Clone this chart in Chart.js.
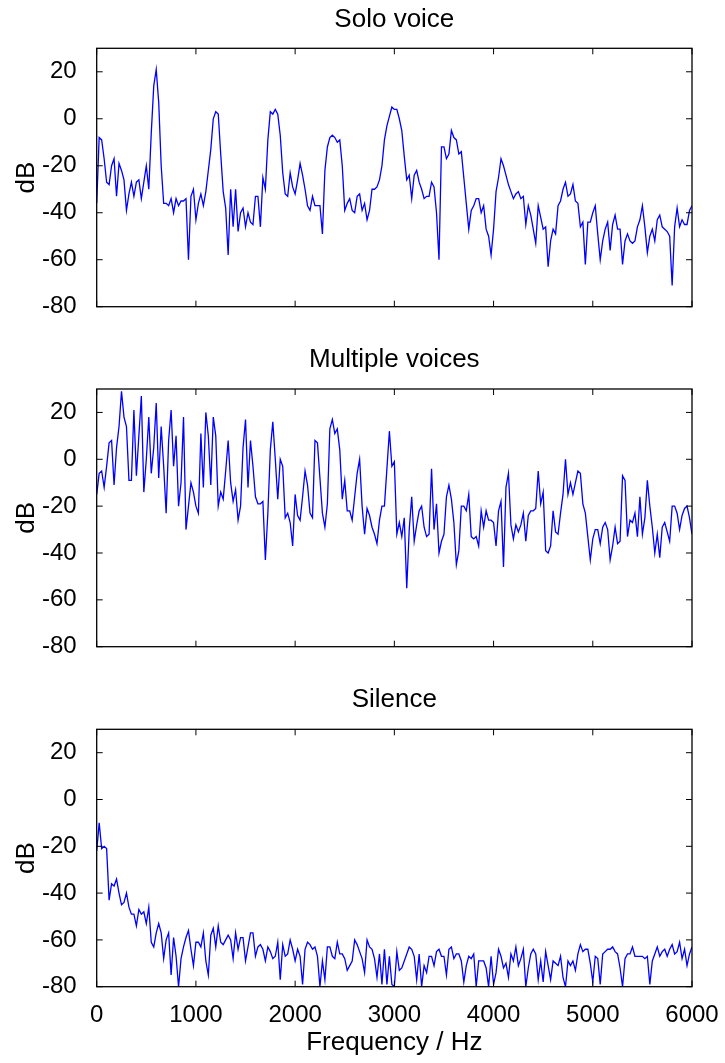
<!DOCTYPE html>
<html>
<head>
<meta charset="utf-8">
<title>Spectra</title>
<script src="https://cdn.jsdelivr.net/npm/chart.js@4.4.0/dist/chart.umd.min.js"></script>
<style>
  html, body { margin: 0; padding: 0; background: #fff; }
  #page { position: relative; width: 725px; height: 1063px; }
  #page canvas { position: absolute; left: 0; }
</style>
</head>
<body>
<div id="page">
  <canvas id="solo" width="725" height="340" style="top:0"></canvas>
  <canvas id="multi" width="725" height="340" style="top:340px"></canvas>
  <canvas id="silence" width="725" height="383" style="top:680px"></canvas>
</div>
<script>
// spectrum bins every 25 Hz, 0..6000 Hz
const FREQ_STEP = 25;
const xTicks = [0, 1000, 2000, 3000, 4000, 5000, 6000];
const yTicks = [-80, -60, -40, -20, 0, 20];
const titles = ['Solo voice', 'Multiple voices', 'Silence'];

// dB values, 10 bins (250 Hz) per row
const soloVoice = [
  -36, -8, -9, -17, -27, -28, -20, -17, -33, -19,
  -22, -26, -39, -32, -27, -33, -27, -26, -34, -27,
  -20, -30, -6, 14, 21, 7, -20, -36, -36, -37,
  -34, -40, -34, -37, -35, -35, -34, -60, -33, -30,
  -43, -36, -32, -37, -31, -22, -13, 0, 3, 2,
  -15, -31, -38, -58, -30, -46, -30, -48, -40, -38,
  -46, -40, -44, -45, -33, -33, -46, -25, -30, -9,
  3, 2, 4, 2, -7, -23, -32, -33, -23, -29,
  -32, -26, -19, -24, -30, -37, -39, -33, -37, -37,
  -37, -49, -22, -12, -8, -7, -8, -10, -9, -20,
  -39, -36, -34, -39, -40, -33, -32, -39, -36, -43,
  -39, -30, -30, -29, -26, -20, -9, -3, 1, 5,
  4, 4, 0, -5, -16, -26, -24, -34, -24, -22,
  -27, -30, -34, -33, -33, -27, -29, -40, -60, -12,
  -12, -17, -15, -5, -8, -9, -15, -14, -25, -36,
  -47, -39, -37, -34, -34, -40, -37, -47, -50, -58,
  -47, -31, -25, -17, -20, -24, -28, -31, -34, -32,
  -31, -34, -33, -45, -37, -41, -47, -53, -37, -42,
  -47, -46, -63, -52, -47, -49, -37, -35, -30, -27,
  -33, -32, -28, -35, -36, -46, -44, -62, -44, -44,
  -40, -37, -49, -60, -52, -47, -44, -56, -45, -41,
  -47, -47, -62, -52, -49, -52, -53, -52, -46, -43,
  -37, -46, -57, -50, -47, -52, -43, -41, -46, -47,
  -48, -50, -71, -46, -38, -46, -43, -45, -45, -39,
  -37
];

const multipleVoices = [
  -15, -6, -5, -12, -3, 7, 8, -11, 5, 14,
  29, 18, 14, -9, -9, 21, -7, 10, 27, -14,
  0, 18, -6, 5, 24, -8, 14, -3, -23, 8,
  21, -3, 10, -20, -10, 18, -30, -20, -10, -14,
  -20, -23, 11, -12, 20, 10, -11, 18, 10, -20,
  -14, -17, -5, 8, -10, -18, -13, -26, -20, 5,
  17, -12, 8, -3, -16, -19, -19, -18, -43, -23,
  4, 16, 0, -17, 0, -3, -25, -23, -27, -37,
  -15, -24, -26, -16, -5, -11, -23, -25, 8, 7,
  -8, -23, -29, -19, 13, 17, 11, 13, 4, -17,
  -9, -22, -22, -26, -16, -6, 0, -20, -32, -21,
  -24, -29, -32, -36, -26, -20, -20, -4, 12, -3,
  -1, -32, -27, -33, -25, -55, -30, -16, -35, -28,
  -22, -20, -29, -33, -32, -4, -30, -19, -40, -35,
  -32, -16, -11, -17, -27, -45, -39, -20, -20, -22,
  -15, -33, -34, -33, -37, -22, -29, -22, -26, -26,
  -27, -37, -22, -18, -46, -12, -6, -28, -34, -28,
  -31, -28, -23, -35, -24, -22, -22, -21, -5, -19,
  -14, -39, -40, -37, -22, -31, -32, -23, -15, 0,
  -15, -10, -15, -10, -5, -6, -19, -23, -33, -43,
  -34, -30, -30, -36, -29, -27, -30, -43, -37, -29,
  -36, -35, -7, -9, -33, -26, -27, -23, -33, -16,
  -32, -25, -9, -20, -29, -40, -32, -42, -29, -27,
  -31, -35, -20, -20, -23, -30, -24, -21, -20, -25,
  -32
];

const silence = [
  -22, -10, -21, -20, -21, -43, -36, -37, -34, -40,
  -45, -44, -40, -46, -49, -49, -54, -47, -49, -48,
  -53, -46, -61, -63, -57, -53, -57, -68, -60, -57,
  -75, -59, -67, -80, -68, -63, -59, -56, -64, -71,
  -61, -61, -63, -57, -69, -75, -58, -55, -63, -54,
  -61, -62, -60, -58, -60, -68, -57, -64, -59, -59,
  -69, -63, -57, -57, -67, -63, -62, -64, -69, -63,
  -65, -68, -67, -61, -77, -62, -67, -66, -60, -64,
  -69, -64, -67, -79, -64, -61, -62, -64, -63, -67,
  -80, -69, -77, -63, -63, -67, -68, -61, -66, -66,
  -68, -73, -71, -69, -60, -62, -65, -68, -74, -60,
  -63, -64, -68, -76, -66, -79, -64, -79, -67, -79,
  -80, -65, -73, -72, -69, -66, -63, -64, -67, -77,
  -66, -80, -71, -74, -67, -67, -71, -65, -64, -67,
  -67, -75, -64, -63, -68, -66, -66, -69, -78, -71,
  -67, -68, -66, -80, -69, -69, -69, -72, -80, -67,
  -79, -74, -64, -67, -72, -70, -76, -66, -69, -63,
  -71, -68, -64, -80, -72, -66, -64, -66, -77, -69,
  -78, -65, -71, -77, -69, -70, -71, -67, -76, -80,
  -69, -71, -69, -73, -66, -62, -65, -64, -64, -70,
  -78, -67, -68, -79, -66, -65, -64, -64, -63, -65,
  -66, -72, -80, -68, -66, -66, -63, -67, -67, -67,
  -67, -68, -67, -79, -69, -66, -63, -67, -65, -64,
  -67, -64, -62, -66, -65, -61, -68, -64, -71, -66,
  -63
];

const FONT = 'Liberation Sans, Arial, Helvetica, sans-serif';

// MATLAB style axes: box round the plot, ticks pointing inwards on all sides
const boxAndTicks = {
    id: 'boxAndTicks',
    afterDatasetsDraw(chart) {
        const { ctx, chartArea: a, scales: { x, y } } = chart;
        const len = 6;
        ctx.save();
        ctx.strokeStyle = '#000';
        ctx.lineWidth = 1;
        ctx.beginPath();
        xTicks.forEach(v => {
            const px = x.getPixelForValue(v);
            ctx.moveTo(px, a.bottom); ctx.lineTo(px, a.bottom - len);
            ctx.moveTo(px, a.top); ctx.lineTo(px, a.top + len);
        });
        yTicks.forEach(v => {
            const py = y.getPixelForValue(v);
            ctx.moveTo(a.left, py); ctx.lineTo(a.left + len, py);
            ctx.moveTo(a.right, py); ctx.lineTo(a.right - len, py);
        });
        ctx.stroke();
        ctx.lineWidth = 1.3;
        ctx.strokeRect(a.left, a.top, a.width, a.height);
        ctx.restore();
    }
};

function makePanel(canvasId, title, values, showX, titleGap) {
    const freqs = values.map((_, i) => i * FREQ_STEP);
    return new Chart(document.getElementById(canvasId), {
        type: 'line',
        data: {
            labels: freqs,
            datasets: [{
                data: values,
                borderColor: '#0000ff',
                borderWidth: 1.3,
                pointRadius: 0,
                tension: 0,
                fill: false
            }]
        },
        options: {
            responsive: false,
            animation: false,
            devicePixelRatio: 1,
            layout: { padding: { left: 7, right: 33, top: 0, bottom: showX ? 0 : 33.3 } },
            plugins: {
                legend: { display: false },
                tooltip: { enabled: false },
                title: {
                    display: true,
                    text: title,
                    fullSize: false,
                    color: '#000',
                    font: { family: FONT, size: 26, weight: 'normal' },
                    padding: { top: 4, bottom: titleGap }
                }
            },
            scales: {
                x: {
                    type: 'linear',
                    min: 0,
                    max: 6000,
                    grid: { display: false },
                    border: { display: false },
                    afterBuildTicks: s => { s.ticks = xTicks.map(v => ({ value: v })); },
                    afterFit: s => { s.height = showX ? 76.3 : 0; },
                    ticks: {
                        display: showX,
                        color: '#000',
                        padding: 6,
                        maxRotation: 0,
                        callback: v => String(v),
                        font: { family: FONT, size: 24 }
                    },
                    title: {
                        display: showX,
                        text: 'Frequency / Hz',
                        color: '#000',
                        padding: { top: 0, bottom: 4.4 },
                        font: { family: FONT, size: 26 }
                    }
                },
                y: {
                    min: -80,
                    max: 30,
                    grid: { display: false },
                    border: { display: false },
                    afterBuildTicks: s => { s.ticks = yTicks.map(v => ({ value: v })); },
                    afterFit: s => { s.width = 89.7; },
                    ticks: {
                        color: '#000',
                        padding: 12,
                        font: { family: FONT, size: 24 }
                    },
                    title: {
                        display: true,
                        text: 'dB',
                        color: '#000',
                        padding: { top: 4, bottom: 0 },
                        font: { family: FONT, size: 26 }
                    }
                }
            }
        },
        plugins: [boxAndTicks]
    });
}

makePanel('solo', titles[0], soloVoice, false, 13.1);
makePanel('multi', titles[1], multipleVoices, false, 13.8);
makePanel('silence', titles[2], silence, true, 14.1);
</script>
</body>
</html>
